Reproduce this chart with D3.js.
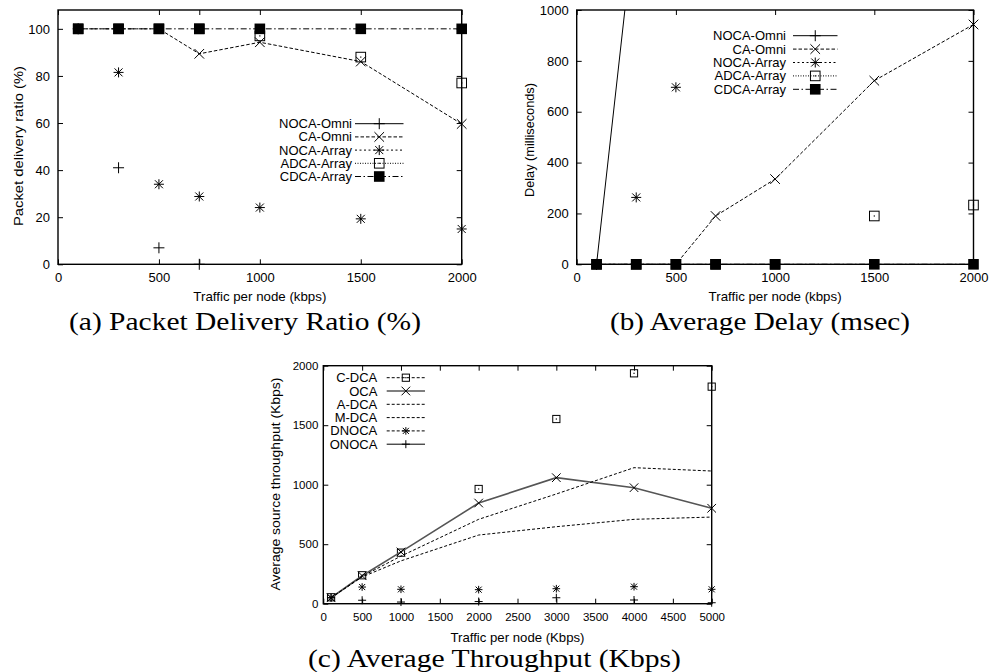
<!DOCTYPE html>
<html>
<head>
<meta charset="utf-8">
<script src="https://cdn.jsdelivr.net/npm/d3@7/dist/d3.min.js"></script>
<style>
  html, body { margin: 0; padding: 0; background: #fff; }
  svg { display: block; }
  text { font-family: "Liberation Sans", Arial, Helvetica, sans-serif; fill: #000; }
  text.cap { font-family: "Liberation Serif", "Times New Roman", serif; }
</style>
</head>
<body>
<svg id="fig" width="989" height="672"></svg>
<script>
// ---------------- data ----------------
// (a) and (b): traffic per node (kbps)
const trafficAB = [100, 300, 500, 700, 1000, 1500, 2000];
const schemesAB = ["NOCA-Omni", "CA-Omni", "NOCA-Array", "ADCA-Array", "CDCA-Array"];

// packet delivery ratio (%)
const pdrNocaOmni  = [100, 41, 7, 0, null, null, null];
const pdrCaOmni    = [100, 100, 100, 89.4, 94.3, 86.1, 59.6];
const pdrNocaArray = [100, 81.5, 34, 28.8, 24.1, 19.3, 15];
const pdrAdcaArray = [100, 100, 100, 100, 97, 88, 77];
const pdrCdcaArray = [100, 100, 100, 100, 100, 100, 100];

// average delay (milliseconds)
const delayNocaOmni  = [0, 1400, null, null, null, null, null];
const delayCaOmni    = [0, 0, 0, 190, 335, 722, 943];
const delayNocaArray = [0, 263, 696, null, null, null, null];
const delayAdcaArray = [0, 0, 0, 0, 0, 190, 233];
const delayCdcaArray = [0, 0, 0, 0, 0, 0, 0];

// (c): traffic per node (Kbps) and average source throughput (Kbps)
const trafficC = [100, 500, 1000, 2000, 3000, 4000, 5000];
const schemesC = ["C-DCA", "OCA", "A-DCA", "M-DCA", "DNOCA", "ONOCA"];
const tputCDca  = [54, 239, 429, 964, 1552, 1936, 1824];
const tputOca   = [50, 235, 435, 846, 1059, 975, 802];
const tputADca  = [50, 230, 400, 709, 922, 1143, 1115];
const tputMDca  = [50, 225, 360, 577, 647, 709, 728];
const tputDNoca = [50, 140, 121, 118, 126, 143, 121];
const tputONoca = [50, 29, 14, 18, 50, 31, 8];

// tick values
const xTicksAB = [0, 500, 700, 1000, 1500, 2000];
const xTickLabeledAB = [0, 500, 1000, 1500, 2000];
const yTicksPdr = [0, 20, 40, 60, 80, 100];
const yTicksDelay = [0, 200, 400, 600, 800, 1000];
const xTicksC = [0, 500, 1000, 1500, 2000, 2500, 3000, 3500, 4000, 4500, 5000];
const yTicksC = [0, 500, 1000, 1500, 2000];

// ---------------- styles ----------------
const styles = {
  "NOCA-Omni":  { marker: "plus",   dash: null },
  "CA-Omni":    { marker: "cross",  dash: "3.5,2" },
  "NOCA-Array": { marker: "star",   dash: "2,2.5" },
  "ADCA-Array": { marker: "square", dash: "1,1.5" },
  "CDCA-Array": { marker: "fsquare", dash: "6,2.5,1.5,2.5" },
  "C-DCA":      { marker: "square", dash: "3,2" },
  "OCA":        { marker: "cross",  dash: null, color: "#555", width: 1.6 },
  "A-DCA":      { marker: null,     dash: "3,2" },
  "M-DCA":      { marker: null,     dash: "3,2" },
  "DNOCA":      { marker: "star",   dash: "3,2" },
  "ONOCA":      { marker: "plus",   dash: null }
};

const svg = d3.select("#fig");

function markerPath(type, r) {
  const plus = `M${-r},0H${r}M0,${-r}V${r}`;
  const c = r;
  const cross = `M${-c},${-c}L${c},${c}M${-c},${c}L${c},${-c}`;
  if (type === "plus") return plus;
  if (type === "cross") return cross;
  if (type === "star") {
    const k = r * 0.8;
    return `M${-r},0H${r}M0,${-r}V${r}M${-k},${-k}L${k},${k}M${-k},${k}L${k},${-k}`;
  }
  return null;
}

function drawMarker(g, type, cx, cy, sizes) {
  if (!type) return;
  if (type === "square") {
    const r = sizes.square;
    g.append("rect").attr("x", cx - r).attr("y", cy - r).attr("width", 2 * r).attr("height", 2 * r)
      .attr("fill", "none").attr("stroke", "#000").attr("stroke-width", 1);
    g.append("rect").attr("x", cx - 0.6).attr("y", cy - 0.6).attr("width", 1.2).attr("height", 1.2).attr("fill", "#000");
  } else if (type === "fsquare") {
    const r = sizes.fsquare;
    g.append("rect").attr("x", cx - r).attr("y", cy - r).attr("width", 2 * r).attr("height", 2 * r).attr("fill", "#000");
  } else {
    g.append("path").attr("transform", `translate(${cx},${cy})`)
      .attr("d", markerPath(type, sizes[type]))
      .attr("fill", "none").attr("stroke", "#000").attr("stroke-width", 1);
  }
}

function drawPanel(cfg) {
  const g = svg.append("g");
  const x = d3.scaleLinear().domain(cfg.xDomain).range(cfg.xRange);
  const y = d3.scaleLinear().domain(cfg.yDomain).range(cfg.yRange);
  const [L, R] = cfg.xRange;
  const [B, T] = cfg.yRange;

  const clipId = "clip-" + cfg.id;
  svg.append("clipPath").attr("id", clipId)
    .append("rect").attr("x", L).attr("y", T).attr("width", R - L).attr("height", B - T);

  const fontFam = "Liberation Sans, Arial, Helvetica, sans-serif";
  const xFmt = d => (cfg.xLabeled.includes(d) ? String(d) : "");

  const styleAxis = sel => {
    sel.attr("font-family", fontFam).attr("font-size", cfg.tickFont);
    sel.select(".domain").remove();
    sel.selectAll(".tick line").attr("stroke", "#000").attr("stroke-width", 1);
  };

  g.append("g").attr("transform", `translate(0,${B})`)
    .call(d3.axisBottom(x).tickValues(cfg.xTicks).tickFormat(xFmt).tickSizeInner(-5).tickSizeOuter(0).tickPadding(cfg.xPad))
    .call(styleAxis);
  g.append("g").attr("transform", `translate(0,${T})`)
    .call(d3.axisTop(x).tickValues(cfg.xTicks).tickFormat("").tickSizeInner(-5).tickSizeOuter(0))
    .call(styleAxis);
  g.append("g").attr("transform", `translate(${L},0)`)
    .call(d3.axisLeft(y).tickValues(cfg.yTicks).tickFormat(d3.format("d")).tickSizeInner(-5).tickSizeOuter(0).tickPadding(cfg.yPad))
    .call(styleAxis);
  g.append("g").attr("transform", `translate(${R},0)`)
    .call(d3.axisRight(y).tickValues(cfg.yTicks).tickFormat("").tickSizeInner(-5).tickSizeOuter(0))
    .call(styleAxis);

  // series
  cfg.series.forEach((s, si) => {
    const st = styles[s.name];
    const color = st.color || "#000";
    const width = st.width || 1;
    const pts = cfg.xValues.map((t, i) => ({ t, v: s.values[i] }));
    if (cfg.linesShown.includes(s.name)) {
      g.append("path").datum(pts)
        .attr("clip-path", `url(#${clipId})`)
        .attr("d", d3.line().defined(d => d.v != null).x(d => x(d.t)).y(d => y(d.v)))
        .attr("fill", "none").attr("stroke", color).attr("stroke-width", width)
        .attr("stroke-dasharray", st.dash);
    }
    pts.filter(d => d.v != null && d.v >= cfg.yDomain[0] && d.v <= cfg.yDomain[1])
      .forEach(d => drawMarker(g, st.marker, x(d.t), y(d.v), cfg.markerSize));

    // key entry
    const lg = cfg.legend;
    const ry = lg.y0 + si * lg.step;
    g.append("text").attr("x", lg.textRight).attr("y", ry + 4.5)
      .attr("text-anchor", "end").attr("font-size", 13).text(s.name);
    g.append("line").attr("x1", lg.lineX0).attr("x2", lg.lineX1).attr("y1", ry).attr("y2", ry)
      .attr("stroke", color).attr("stroke-width", width).attr("stroke-dasharray", st.dash);
    drawMarker(g, st.marker, (lg.lineX0 + lg.lineX1) / 2, ry, cfg.markerSize);
  });

  // frame
  g.append("rect").attr("x", L).attr("y", T).attr("width", R - L).attr("height", B - T)
    .attr("fill", "none").attr("stroke", "#000").attr("stroke-width", 1.4);

  // axis titles
  g.append("text").attr("x", (L + R) / 2).attr("y", cfg.xTitleY)
    .attr("text-anchor", "middle").attr("font-size", 13)
    .attr("textLength", cfg.xTitleLen).attr("lengthAdjust", "spacingAndGlyphs")
    .text(cfg.xTitle);
  g.append("text").attr("transform", `translate(${cfg.yTitleX},${cfg.yTitleCY}) rotate(-90)`)
    .attr("text-anchor", "middle").attr("dy", "0.35em").attr("font-size", 13.5)
    .attr("textLength", cfg.yTitleLen).attr("lengthAdjust", "spacingAndGlyphs")
    .text(cfg.yTitle);

  // caption
  svg.append("text").attr("class", "cap").attr("x", cfg.capX).attr("y", cfg.capY)
    .attr("text-anchor", "middle").attr("font-size", 25)
    .attr("textLength", cfg.capLen).attr("lengthAdjust", "spacingAndGlyphs")
    .text(cfg.caption);
}

const sizesAB = { plus: 5.5, cross: 4.8, star: 5, square: 4.8, fsquare: 5.3 };
const sizesC = { plus: 4, cross: 4.3, star: 3.8, square: 3.6, fsquare: 4 };

drawPanel({
  id: "a",
  xDomain: [0, 2000], xRange: [58, 461.7],
  yDomain: [0, 108], yRange: [264.3, 10],
  xTicks: xTicksAB, xLabeled: xTickLabeledAB, yTicks: yTicksPdr,
  tickFont: 13, xPad: 8.5, yPad: 8,
  xValues: trafficAB,
  series: [
    { name: schemesAB[0], values: pdrNocaOmni },
    { name: schemesAB[1], values: pdrCaOmni },
    { name: schemesAB[2], values: pdrNocaArray },
    { name: schemesAB[3], values: pdrAdcaArray },
    { name: schemesAB[4], values: pdrCdcaArray }
  ],
  linesShown: ["CA-Omni", "CDCA-Array"],
  markerSize: sizesAB,
  legend: { textRight: 352, y0: 123.7, step: 13.2, lineX0: 355, lineX1: 403.5 },
  xTitle: "Traffic per node (kbps)", xTitleY: 301, xTitleLen: 133,
  yTitle: "Packet delivery ratio (%)", yTitleX: 18.5, yTitleCY: 146, yTitleLen: 160,
  caption: "(a) Packet Delivery Ratio (%)", capX: 245, capY: 330, capLen: 352
});

drawPanel({
  id: "b",
  xDomain: [0, 2000], xRange: [576.7, 973.5],
  yDomain: [0, 1000], yRange: [264.3, 10],
  xTicks: xTickLabeledAB, xLabeled: xTickLabeledAB, yTicks: yTicksDelay,
  tickFont: 13, xPad: 8.5, yPad: 8,
  xValues: trafficAB,
  series: [
    { name: schemesAB[0], values: delayNocaOmni },
    { name: schemesAB[1], values: delayCaOmni },
    { name: schemesAB[2], values: delayNocaArray },
    { name: schemesAB[3], values: delayAdcaArray },
    { name: schemesAB[4], values: delayCdcaArray }
  ],
  linesShown: ["NOCA-Omni", "CA-Omni", "CDCA-Array"],
  markerSize: sizesAB,
  legend: { textRight: 786, y0: 35.7, step: 13.4, lineX0: 793, lineX1: 837.5 },
  xTitle: "Traffic per node (kbps)", xTitleY: 301, xTitleLen: 133,
  yTitle: "Delay (milliseconds)", yTitleX: 529, yTitleCY: 140, yTitleLen: 114,
  caption: "(b) Average Delay (msec)", capX: 760, capY: 330, capLen: 300
});

drawPanel({
  id: "c",
  xDomain: [0, 5000], xRange: [323.3, 711.7],
  yDomain: [0, 2000], yRange: [603.7, 365.7],
  xTicks: xTicksC, xLabeled: xTicksC, yTicks: yTicksC,
  tickFont: 11.5, xPad: 9, yPad: 5,
  xValues: trafficC,
  series: [
    { name: schemesC[0], values: tputCDca },
    { name: schemesC[1], values: tputOca },
    { name: schemesC[2], values: tputADca },
    { name: schemesC[3], values: tputMDca },
    { name: schemesC[4], values: tputDNoca },
    { name: schemesC[5], values: tputONoca }
  ],
  linesShown: ["OCA", "A-DCA", "M-DCA"],
  markerSize: sizesC,
  legend: { textRight: 377.3, y0: 377.7, step: 13.3, lineX0: 386.7, lineX1: 425 },
  xTitle: "Traffic per node (Kbps)", xTitleY: 642, xTitleLen: 134,
  yTitle: "Average source throughput (Kbps)", yTitleX: 275, yTitleCY: 484, yTitleLen: 213,
  caption: "(c) Average Throughput (Kbps)", capX: 494.5, capY: 667, capLen: 373
});
</script>
</body>
</html>
